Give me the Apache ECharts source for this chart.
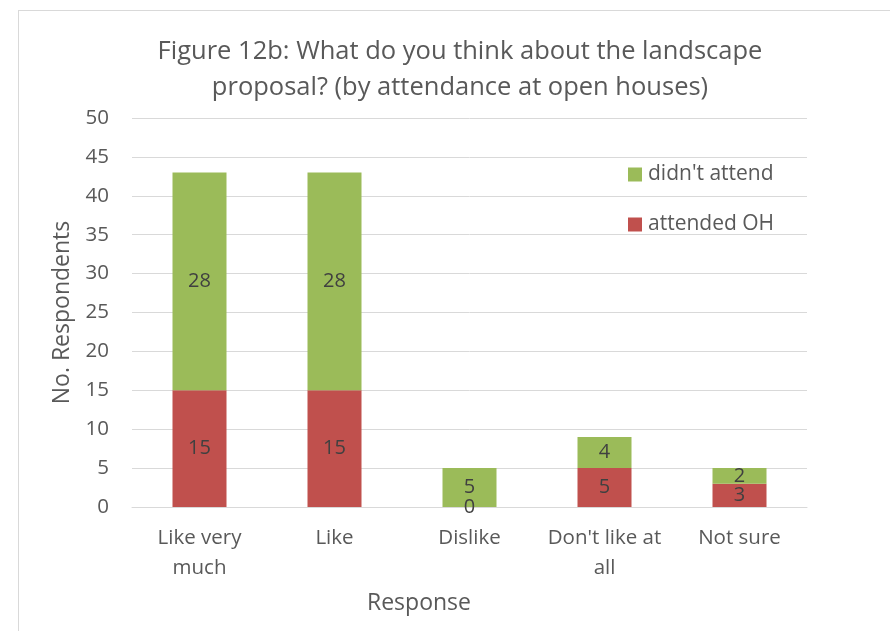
<!DOCTYPE html>
<html><head><meta charset="utf-8">
<script src="https://cdn.jsdelivr.net/npm/echarts@6/dist/echarts.min.js"></script>
<style>
html,body{margin:0;padding:0;background:#fff;}
#frame{position:absolute;left:18px;top:10px;width:900px;height:640px;border:1px solid #d9d9d9;box-sizing:border-box;}
#c{position:absolute;left:0;top:0;width:890px;height:631px;}
</style></head>
<body>
<div id="frame"></div>
<div id="c"></div>
<script>
var categories = ["Like very\nmuch", "Like", "Dislike", "Don't like at\nall", "Not sure"];
var attendedOH = [15, 15, 0, 5, 3];
var didntAttend = [28, 28, 5, 4, 2];
var yTicks = [0, 5, 10, 15, 20, 25, 30, 35, 40, 45, 50];
var seriesNames = ["attended OH", "didn't attend"];
var titleText = "Figure 12b: What do you think about the landscape\nproposal? (by attendance at open houses)";

var FONT = "Open Sans";
var chart = echarts.init(document.getElementById('c'));
var lbl = {show: true, position: 'inside', color: '#404040', fontSize: 20, fontFamily: FONT};
chart.setOption({
  animation: false,
  title: {text: titleText, left: 455, textAlign: 'center', top: 29,
    textStyle: {fontFamily: FONT, fontSize: 25.5, fontWeight: 'normal', color: '#595959', lineHeight: 36}},
  grid: {left: 132, right: 83, top: 118, bottom: 124},
  legend: {orient: 'vertical', left: 623, top: 159, itemGap: 29, itemWidth: 14, itemHeight: 14,
    icon: 'rect',
    data: [seriesNames[1], seriesNames[0]],
    textStyle: {fontFamily: FONT, fontSize: 21, color: '#595959', padding: [0, 0, 0, 1]}},
  xAxis: {type: 'category', data: categories,
    axisLine: {lineStyle: {color: '#d9d9d9', width: 1}}, axisTick: {show: false},
    axisLabel: {fontFamily: FONT, fontSize: 20.5, color: '#595959', margin: 16, lineHeight: 30, interval: 0}},
  yAxis: {type: 'value', min: yTicks[0], max: yTicks[yTicks.length-1], interval: 5,
    name: 'No. Respondents', nameLocation: 'middle', nameGap: 58,
    nameTextStyle: {fontFamily: FONT, fontSize: 23, color: '#595959'},
    axisLine: {show: false}, axisTick: {show: false},
    splitLine: {lineStyle: {color: '#d9d9d9', width: 1}},
    axisLabel: {fontFamily: FONT, fontSize: 20.5, color: '#595959', margin: 23}},
  graphic: [{type: 'text', left: 367, top: 592,
    style: {text: 'Response', fontFamily: FONT, fontSize: 23, fill: '#595959'}}],
  series: [
    {name: seriesNames[0], type: 'bar', stack: 's', data: attendedOH, barWidth: 54,
     itemStyle: {color: '#C0504D'}, label: lbl},
    {name: seriesNames[1], type: 'bar', stack: 's', data: didntAttend, barWidth: 54,
     itemStyle: {color: '#9BBB59'}, label: lbl}
  ]
});
</script>
</body></html>
